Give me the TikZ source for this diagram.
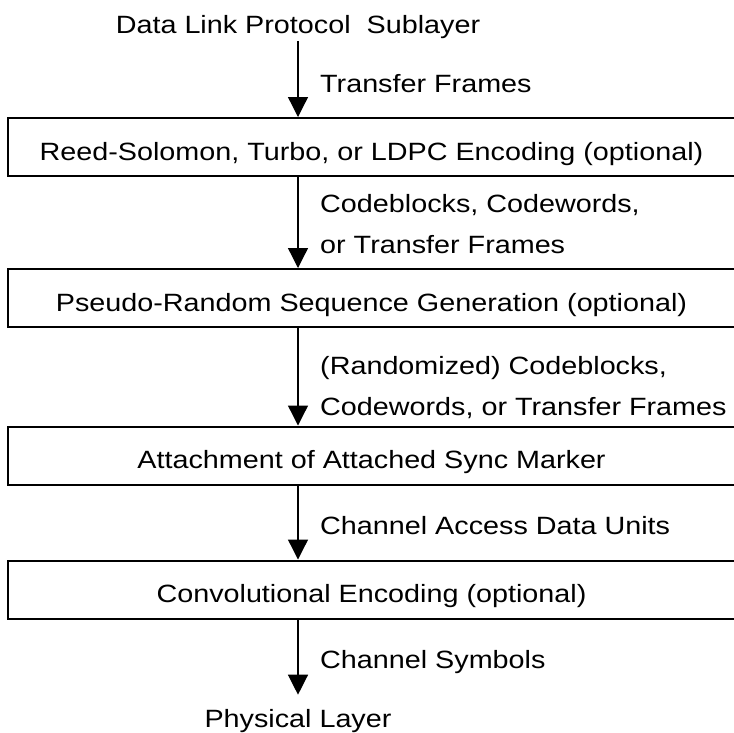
\documentclass[tikz,border=0pt]{standalone}
\usepackage{fontspec}
\setmainfont{Liberation Sans}[FakeStretch=1.15]
\usetikzlibrary{arrows.meta}
\begin{document}
\begin{tikzpicture}[x=1pt,y=-1pt,
  every node/.style={font=\fontsize{25}{41}\selectfont, inner sep=0pt},
  stagebox/.style={draw, line width=2pt, minimum width=727pt, minimum height=58pt,
                   text height=26pt, text depth=0pt},
  flowlabel/.style={anchor=base west, align=left},
  endlabel/.style={anchor=base},
  flow/.style={line width=1.3pt, -{Triangle[width=20pt,length=20pt]}}]
\useasboundingbox (0,0) rectangle (734,732);
% end points
\node[endlabel] (src) at (298,33) {Data Link Protocol\ \ Sublayer};
\node[endlabel] (dst) at (298,727) {Physical Layer};
% stages
\node[stagebox] (b1) at (371.5,147) {Reed-Solomon, Turbo, or LDPC Encoding (optional)};
\node[stagebox] (b2) at (371.5,298) {Pseudo-Random Sequence Generation (optional)};
\node[stagebox] (b3) at (371.5,455.5) {Attachment of Attached Sync Marker};
\node[stagebox] (b4) at (371.5,589.5) {Convolutional Encoding (optional)};
% labels (base = baseline of the last line)
\node[flowlabel] (l1) at (320,92) {Transfer Frames};
\node[flowlabel] (l2) at (320,253) {Codeblocks, Codewords,\\or Transfer Frames};
\node[flowlabel] (l3) at (320,415) {(Randomized) Codeblocks,\\Codewords, or Transfer Frames};
\node[flowlabel] (l4) at (320,534) {Channel Access Data Units};
\node[flowlabel] (l5) at (320,668) {Channel Symbols};
% connectors
\draw[flow, shorten <=2.5pt] (src) -- (src |- b1.north);
\draw[flow] (b1.south -| src) -- (b2.north -| src);
\draw[flow] (b2.south -| src) -- (b3.north -| src);
\draw[flow] (b3.south -| src) -- (b4.north -| src);
\draw[flow, shorten >=14pt] (b4.south -| src) -- (dst.north);
\end{tikzpicture}
\end{document}
